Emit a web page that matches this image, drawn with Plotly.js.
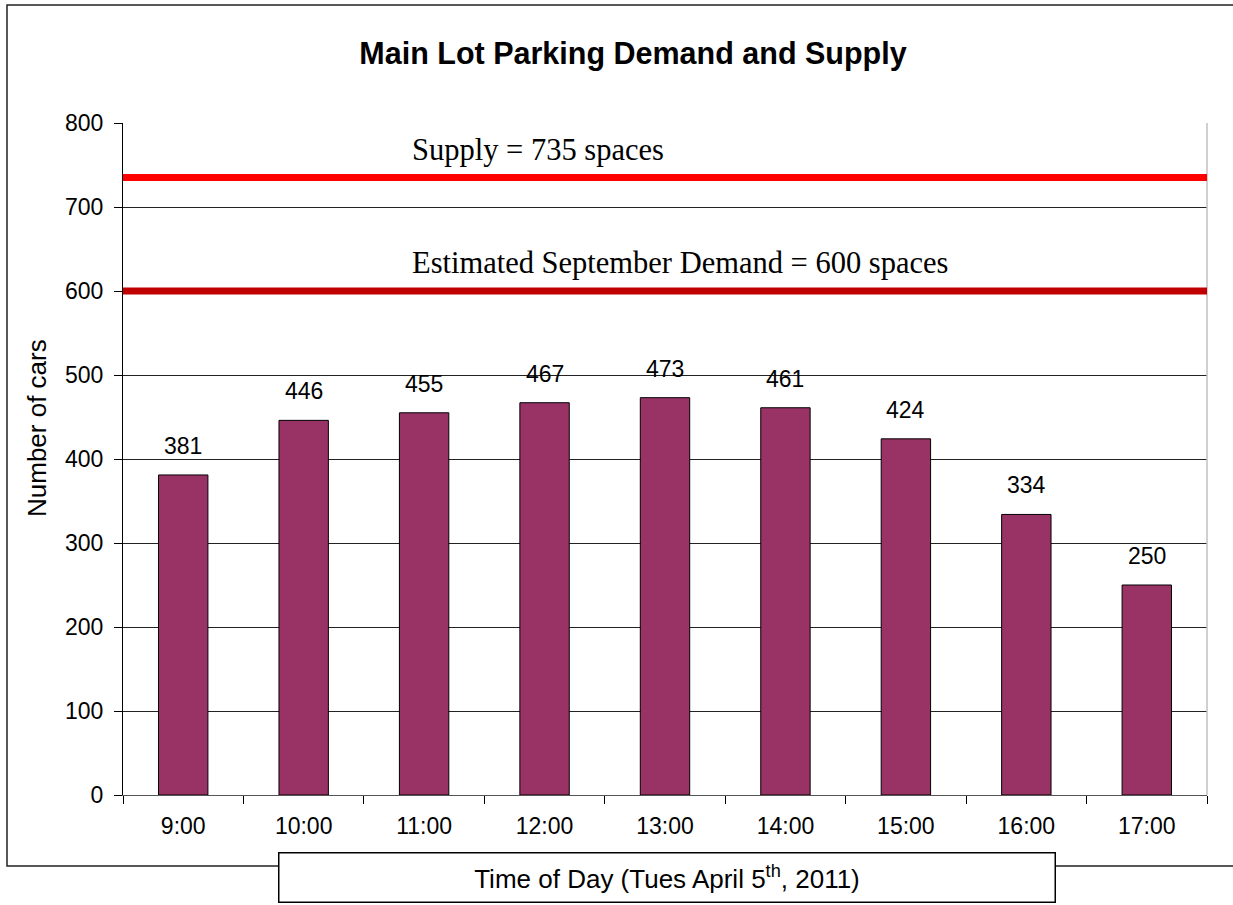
<!DOCTYPE html>
<html>
<head>
<meta charset="utf-8">
<script src="https://cdn.plot.ly/plotly-3.0.1.min.js"></script>
<style>html,body{margin:0;padding:0;background:#fff;}#chart{width:1233px;height:905px;}</style>
</head>
<body>
<div id="chart"></div>
<script>
var times = ["9:00","10:00","11:00","12:00","13:00","14:00","15:00","16:00","17:00"];
var cars = [381,446,455,467,473,461,424,334,250];
var supplyValue = 735;
var demandValue = 600;
var supplyLabel = "Supply = 735 spaces";
var demandLabel = "Estimated September Demand = 600 spaces";
var yTicks = [0,100,200,300,400,500,600,700,800];

var W = 1233, H = 905;
var L = 123, R = 26, T = 123, B = 110;
var pw = W - L - R, ph = H - T - B;
function px(x){ return (x - L) / pw; }
function py(y){ return (H - B - y) / ph; }

var trace = {
  type: 'bar',
  x: times,
  y: cars,
  width: 0.41,
  marker: {color: '#993366', line: {color: '#000000', width: 1}},
  hoverinfo: 'x+y'
};

var annotations = [];
for (var i = 0; i < times.length; i++) {
  annotations.push({
    x: times[i], y: cars[i], xref: 'x', yref: 'y',
    text: String(cars[i]), showarrow: false,
    yanchor: 'bottom', yshift: 14,
    font: {family: 'Arial, Liberation Sans, sans-serif', size: 23, color: '#000'}
  });
}
annotations.push({
  x: px(410), y: supplyValue, xref: 'paper', yref: 'y',
  text: supplyLabel, showarrow: false, xanchor: 'left', yanchor: 'bottom', yshift: 9,
  font: {family: 'Times New Roman, Liberation Serif, serif', size: 30.5, color: '#000'}
});
annotations.push({
  x: px(410), y: demandValue, xref: 'paper', yref: 'y',
  text: demandLabel, showarrow: false, xanchor: 'left', yanchor: 'bottom', yshift: 9,
  font: {family: 'Times New Roman, Liberation Serif, serif', size: 30.5, color: '#000'}
});
annotations.push({
  x: px(37), y: py(428), xref: 'paper', yref: 'paper',
  text: 'Number of cars', showarrow: false, textangle: -90,
  xanchor: 'center', yanchor: 'middle',
  font: {family: 'Arial, Liberation Sans, sans-serif', size: 26, color: '#000'}
});
annotations.push({
  x: px(666.5), y: py(878), xref: 'paper', yref: 'paper',
  text: 'Time of Day (Tues April 5<sup>th</sup>, 2011)', showarrow: false,
  xanchor: 'center', yanchor: 'middle',
  width: 775, height: 48, borderpad: 0, borderwidth: 1.5,
  bordercolor: '#000', bgcolor: '#fff',
  font: {family: 'Arial, Liberation Sans, sans-serif', size: 26, color: '#000'}
});

var shapes = [
  {type: 'rect', xref: 'paper', yref: 'paper', x0: px(7), x1: px(1240), y0: py(866), y1: py(5),
   line: {color: '#222', width: 1.5}, fillcolor: 'rgba(0,0,0,0)', layer: 'below'},
  {type: 'line', xref: 'paper', yref: 'paper', x0: 1, x1: 1, y0: 0, y1: 1,
   line: {color: '#c0c0c0', width: 1.5}},
  {type: 'line', xref: 'paper', yref: 'y', x0: 0, x1: 1, y0: supplyValue, y1: supplyValue,
   line: {color: '#ff0000', width: 7}},
  {type: 'line', xref: 'paper', yref: 'y', x0: 0, x1: 1, y0: demandValue, y1: demandValue,
   line: {color: '#c00000', width: 7}}
];

var layout = {
  width: W, height: H,
  margin: {l: L, r: R, t: T, b: B, pad: 0},
  paper_bgcolor: '#ffffff', plot_bgcolor: '#ffffff',
  showlegend: false,
  font: {family: 'Arial, Liberation Sans, sans-serif', size: 22, color: '#000'},
  title: {
    text: '<b>Main Lot Parking Demand and Supply</b>',
    xref: 'container', yref: 'container', x: 633 / W, y: 1 - 53 / H,
    xanchor: 'center', yanchor: 'middle',
    font: {family: 'Arial, Liberation Sans, sans-serif', size: 30.5, color: '#000'}
  },
  xaxis: {
    type: 'category',
    tickson: 'boundaries',
    ticks: 'outside', ticklen: 8, tickcolor: '#000', tickwidth: 1,
    showline: true, linecolor: '#555', linewidth: 1,
    showgrid: false, zeroline: false,
    ticklabelstandoff: 10,
    tickfont: {family: 'Arial, Liberation Sans, sans-serif', size: 23, color: '#000'}
  },
  yaxis: {
    range: [0, 800],
    tickvals: yTicks,
    ticks: 'outside', ticklen: 8, tickcolor: '#000', tickwidth: 1,
    showline: true, linecolor: '#000', linewidth: 1,
    showgrid: true, gridcolor: '#222', gridwidth: 1,
    zeroline: false,
    ticklabelstandoff: 6,
    tickfont: {family: 'Arial, Liberation Sans, sans-serif', size: 23, color: '#000'}
  },
  bargap: 0.59,
  shapes: shapes,
  annotations: annotations
};

Plotly.newPlot('chart', [trace], layout, {displayModeBar: false, staticPlot: true});
</script>
</body>
</html>
